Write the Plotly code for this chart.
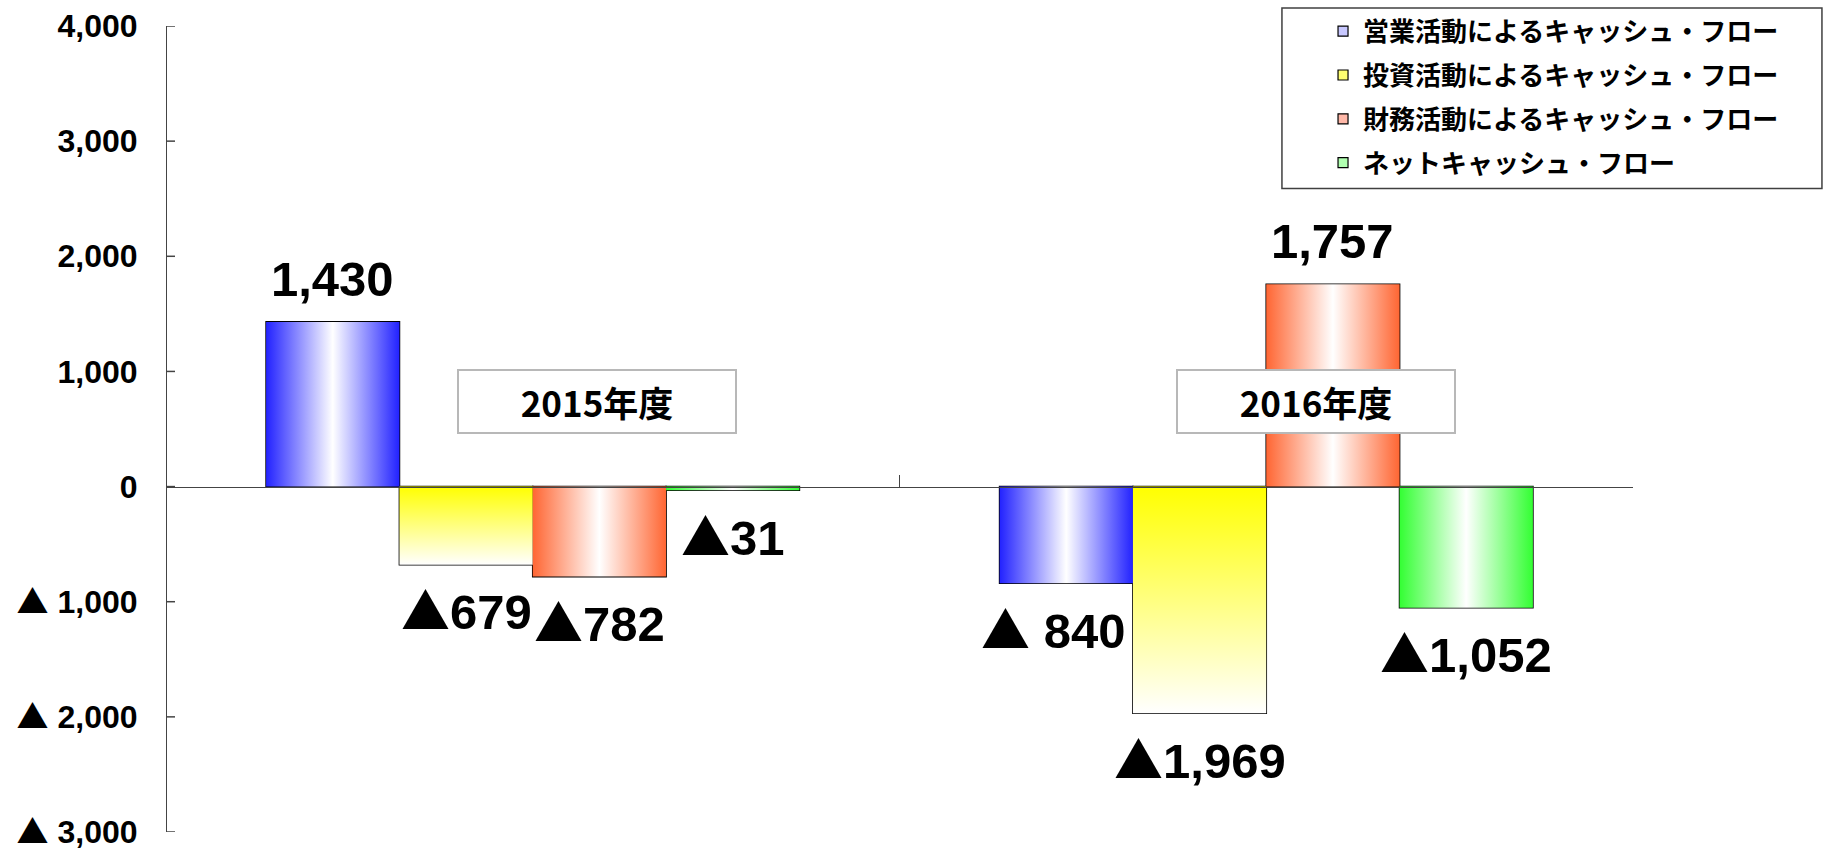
import plotly.graph_objects as go

# ---- data -------------------------------------------------------------
years = ["2015年度", "2016年度"]
series_names = [
    "営業活動によるキャッシュ・フロー",
    "投資活動によるキャッシュ・フロー",
    "財務活動によるキャッシュ・フロー",
    "ネットキャッシュ・フロー",
]
operating_cf = [1430, -840]
investing_cf = [-679, -1969]
financing_cf = [-782, 1757]
net_cf = [-31, -1052]

operating_labels = ["1,430", "▲ 840"]
investing_labels = ["▲679", "▲1,969"]
financing_labels = ["▲782", "1,757"]
net_labels = ["▲31", "▲1,052"]

y_tick_values = [-3000, -2000, -1000, 0, 1000, 2000, 3000, 4000]
y_tick_labels = ["▲ 3,000", "▲ 2,000", "▲ 1,000", "0", "1,000", "2,000", "3,000", "4,000"]

series_values = [operating_cf, investing_cf, financing_cf, net_cf]
series_labels = [operating_labels, investing_labels, financing_labels, net_labels]

# ---- styles -----------------------------------------------------------
edge_colors = ["#2222ff", "#ffff00", "#ff6633", "#33ff33"]
legend_tints = ["#c8c8ff", "#ffff70", "#ffb8a8", "#b0ffb0"]
gradient_kind = ["horizontal", "vertical", "horizontal", "horizontal"]
label_xshift = [[0, -13], [0, 0], [0, 0], [0, 0]]

LATIN = "Arial, Liberation Sans, sans-serif"
CJK_FONT = "Noto Sans CJK JP"
LABEL_FONT = dict(family=LATIN, size=49, color="black", weight="bold")
Y_RANGE = [-3000, 4000]
AXIS_COLOR = "#444"


def with_triangle(text):
    # the ▲ negative marker is set in the CJK face so it comes out full size
    return text.replace("▲", "<span style=\"font-family:'Noto Sans CJK JP'\">▲</span>")


BAR_GAP = 0.273
n_series = len(series_values)
bar_w = (1 - BAR_GAP) / n_series
group_left = -(1 - BAR_GAP) / 2

fig = go.Figure()


def gradient_scale(kind, color):
    if kind == "horizontal":
        return [[0, color], [0.5, "#ffffff"], [1, color]]
    return [[0, "#ffffff"], [1, color]]


# gradient fills, one per bar, laid under the outlined bars
for i, vals in enumerate(series_values):
    for j, v in enumerate(vals):
        x0 = j + group_left + i * bar_w
        x1 = x0 + bar_w
        fig.add_trace(go.Scatter(
            x=[x0, x0, x1, x1, x0], y=[0, v, v, 0, 0],
            mode="lines", fill="toself",
            line=dict(width=0, color="rgba(0,0,0,0)"),
            fillgradient=dict(type=gradient_kind[i],
                              colorscale=gradient_scale(gradient_kind[i], edge_colors[i])),
            showlegend=False, hoverinfo="skip",
        ))

# outlined bars
for i, vals in enumerate(series_values):
    fig.add_trace(go.Bar(
        x=list(range(len(years))), y=vals,
        width=bar_w, offset=group_left + i * bar_w,
        marker=dict(color="rgba(0,0,0,0)", line=dict(color="black", width=1.6)),
        showlegend=False, hoverinfo="skip",
    ))

# legend entries
for i, name in enumerate(series_names):
    fig.add_trace(go.Scatter(
        x=[None], y=[None], mode="markers", name=name,
        legendgroup=f"g{i}",
        marker=dict(symbol="square", size=10, color=legend_tints[i],
                    line=dict(color="black", width=1.2)),
    ))

annotations = []
# value labels
for i, (vals, labels) in enumerate(zip(series_values, series_labels)):
    for j, (v, lab) in enumerate(zip(vals, labels)):
        xc = j + group_left + (i + 0.5) * bar_w
        annotations.append(dict(
            x=xc, y=v, xref="x", yref="y", text=with_triangle(lab), showarrow=False,
            yanchor="middle", xanchor="center",
            yshift=43 if v > 0 else -43, xshift=label_xshift[i][j],
            font=LABEL_FONT,
        ))

# fiscal-year boxes
year_box_dx = [0.087, 0.068]
for j, yr in enumerate(years):
    annotations.append(dict(
        x=j + year_box_dx[j], y=742, xref="x", yref="y", text=yr, showarrow=False,
        xanchor="center", yanchor="middle",
        width=276, height=61, borderpad=0, borderwidth=2,
        bordercolor="#b8b8b8", bgcolor="white",
        font=dict(family=CJK_FONT, size=35, color="black", weight="bold"),
    ))

shapes = [dict(
    type="rect", xref="paper", yref="paper",
    x0=0.7607, x1=1.1288, y0=0.7983, y1=1.0223,
    line=dict(color="#404040", width=1.5), fillcolor="rgba(0,0,0,0)",
    layer="above",
)]
# short inward tick marks on the value axis
for tv in y_tick_values:
    shapes.append(dict(
        type="line", xref="paper", yref="y",
        xsizemode="pixel", xanchor=0, x0=0, x1=9,
        y0=tv, y1=tv,
        line=dict(color=AXIS_COLOR, width=1.5), layer="above",
    ))

fig.update_layout(
    width=1825, height=851,
    margin=dict(l=166, r=192, t=26, b=19, autoexpand=False),
    paper_bgcolor="white", plot_bgcolor="white",
    barmode="overlay",
    annotations=annotations,
    shapes=shapes,
    showlegend=True,
    legend=dict(
        x=0.7887, y=1.0226, xanchor="left", yanchor="top",
        bgcolor="rgba(0,0,0,0)", borderwidth=0,
        font=dict(family=CJK_FONT, size=26, color="black", weight="bold"),
        tracegroupgap=7,
    ),
    xaxis=dict(
        type="linear", range=[-0.5, 1.5],
        anchor="free", position=3 / 7,
        showline=True, linecolor=AXIS_COLOR, linewidth=1,
        ticks="inside", tickvals=[0.5, 1.5], ticklen=12, tickcolor=AXIS_COLOR,
        showticklabels=False, showgrid=False, zeroline=False,
    ),
    yaxis=dict(
        range=Y_RANGE,
        anchor="free", position=0,
        tickmode="array", tickvals=y_tick_values,
        ticktext=[with_triangle(t) for t in y_tick_labels],
        ticks="",
        showline=True, linecolor=AXIS_COLOR, linewidth=1,
        tickfont=dict(family=LATIN, size=32, color="black", weight="bold"),
        ticklabelstandoff=22, ticklabeloverflow="allow",
        showgrid=False, zeroline=False,
    ),
)

fig.write_html("out.html")
